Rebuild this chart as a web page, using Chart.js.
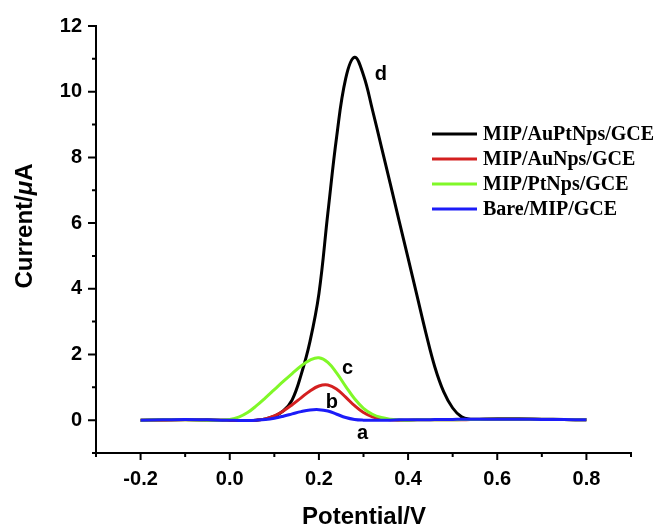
<!DOCTYPE html>
<html>
<head>
<meta charset="utf-8">
<script src="https://cdn.jsdelivr.net/npm/chart.js"></script>
<style>
  html, body { margin: 0; padding: 0; background: #fff; }
  #wrap { width: 657px; height: 526px; }
</style>
</head>
<body>
<div id="wrap"><canvas id="dpv"></canvas></div>
<script>
// potential (V), shared by all four curves
const potential = [-0.2, -0.15, -0.1, -0.05, -0.02,
  0.00, 0.02, 0.04, 0.06, 0.08, 0.10, 0.12, 0.14, 0.16, 0.18,
  0.20, 0.22, 0.24, 0.26, 0.28, 0.30, 0.32, 0.34, 0.36, 0.38,
  0.40, 0.42, 0.44, 0.46, 0.48, 0.50, 0.52, 0.54, 0.56,
  0.60, 0.65, 0.70, 0.75, 0.80];

// current (uA)
const auPtNps = [0.0, 0.01, 0.02, 0.01, 0.0,
  0.0, -0.01, -0.01, 0.0, 0.04, 0.12, 0.28, 0.62, 1.38, 2.4,
  3.85, 6.3, 8.65, 10.4, 11.05, 10.5, 9.45, 8.33, 7.2, 6.06,
  4.93, 3.79, 2.65, 1.62, 0.86, 0.37, 0.1, 0.03, 0.03,
  0.04, 0.04, 0.03, 0.02, 0.01];
const auNps = [0.0, 0.0, 0.01, 0.0, 0.0,
  0.0, -0.01, -0.01, 0.0, 0.04, 0.13, 0.28, 0.47, 0.68, 0.89,
  1.04, 1.07, 0.94, 0.7, 0.44, 0.23, 0.1, 0.04, 0.01, 0.0,
  0.0, 0.01, 0.01, 0.01, 0.01, 0.01, 0.01, 0.02, 0.02,
  0.03, 0.03, 0.02, 0.02, 0.01];
const ptNps = [0.0, 0.01, 0.01, 0.0, 0.0,
  0.02, 0.09, 0.23, 0.44, 0.68, 0.93, 1.18, 1.42, 1.65, 1.83,
  1.9, 1.76, 1.43, 1.03, 0.65, 0.36, 0.18, 0.08, 0.03, 0.01,
  0.0, 0.01, 0.01, 0.01, 0.01, 0.01, 0.02, 0.02, 0.02,
  0.03, 0.03, 0.02, 0.02, 0.01];
const bare = [0.0, 0.01, 0.02, 0.01, 0.0,
  0.0, -0.01, -0.01, 0.0, 0.02, 0.06, 0.12, 0.19, 0.26, 0.31,
  0.32, 0.28, 0.18, 0.08, 0.02, 0.0, 0.0, 0.0, 0.0, 0.01,
  0.01, 0.01, 0.01, 0.02, 0.02, 0.02, 0.03, 0.03, 0.03,
  0.03, 0.03, 0.02, 0.02, 0.01];

const seriesNames = ['MIP/AuPtNps/GCE', 'MIP/AuNps/GCE', 'MIP/PtNps/GCE', 'Bare/MIP/GCE'];

const xMajor = [-0.2, 0.0, 0.2, 0.4, 0.6, 0.8];
const xMinor = [-0.3, -0.1, 0.1, 0.3, 0.5, 0.7, 0.9];
const yMajor = [0, 2, 4, 6, 8, 10, 12];
const yMinor = [-1, 1, 3, 5, 7, 9, 11];

// curve letters, placed in data units
const noteText = ['a', 'b', 'c', 'd'];
const notePotential = [0.298, 0.229, 0.264, 0.339];
const noteCurrent = [-0.40, 0.55, 1.58, 10.53];

function pts(ys) {
  return potential.map((x, i) => ({ x: x, y: ys[i] }));
}

const SANS = '"Liberation Sans", Arial, sans-serif';
const SERIF = '"Liberation Serif", "Times New Roman", serif';

const extras = {
  id: 'extras',
  afterDraw(chart) {
    const ctx = chart.ctx;
    const xs = chart.scales.x, ys = chart.scales.y;
    const area = chart.chartArea;
    ctx.save();
    ctx.strokeStyle = '#000';
    ctx.lineWidth = 2;
    ctx.beginPath();
    yMajor.forEach(v => { const p = ys.getPixelForValue(v); ctx.moveTo(area.left, p); ctx.lineTo(area.left - 8, p); });
    yMinor.forEach(v => { const p = ys.getPixelForValue(v); ctx.moveTo(area.left, p); ctx.lineTo(area.left - 4, p); });
    xMajor.forEach(v => { const p = xs.getPixelForValue(v); ctx.moveTo(p, area.bottom); ctx.lineTo(p, area.bottom + 7); });
    xMinor.forEach(v => { const p = xs.getPixelForValue(v); ctx.moveTo(p, area.bottom); ctx.lineTo(p, area.bottom + 4); });
    ctx.stroke();

    // curve letters
    ctx.fillStyle = '#000';
    ctx.font = 'bold 20px ' + SANS;
    ctx.textAlign = 'center';
    ctx.textBaseline = 'middle';
    noteText.forEach((t, i) => {
      ctx.fillText(t, xs.getPixelForValue(notePotential[i]), ys.getPixelForValue(noteCurrent[i]));
    });

    // legend
    ctx.font = 'bold 20px ' + SERIF;
    ctx.textAlign = 'left';
    chart.data.datasets.forEach((ds, i) => {
      const y = 134 + i * 25;
      ctx.strokeStyle = ds.borderColor;
      ctx.lineWidth = 3;
      ctx.beginPath();
      ctx.moveTo(432, y);
      ctx.lineTo(477, y);
      ctx.stroke();
      ctx.fillStyle = '#000';
      ctx.fillText(ds.label, 483, y + 1);
    });

    // axis titles
    ctx.textBaseline = 'alphabetic';
    ctx.font = 'bold 24px ' + SANS;
    ctx.textAlign = 'center';
    ctx.fillText('Potential/V', 364, 524);

    const parts = [['Current/', 'bold 24px ' + SANS], ['\u03bc', 'italic bold 24px ' + SANS], ['A', 'bold 24px ' + SANS]];
    let total = 0;
    parts.forEach(p => { ctx.font = p[1]; total += ctx.measureText(p[0]).width; });
    ctx.translate(32, 226);
    ctx.rotate(-Math.PI / 2);
    ctx.textAlign = 'left';
    let x = -total / 2;
    parts.forEach(p => { ctx.font = p[1]; ctx.fillText(p[0], x, 0); x += ctx.measureText(p[0]).width; });
    ctx.restore();
  }
};

new Chart(document.getElementById('dpv'), {
  type: 'scatter',
  data: {
    datasets: [
      { label: seriesNames[0], data: pts(auPtNps), borderColor: '#000000', order: 3 },
      { label: seriesNames[1], data: pts(auNps), borderColor: '#d42020', order: 2 },
      { label: seriesNames[2], data: pts(ptNps), borderColor: '#80f828', order: 1 },
      { label: seriesNames[3], data: pts(bare), borderColor: '#1c1cf8', order: 0 }
    ]
  },
  options: {
    responsive: true,
    maintainAspectRatio: false,
    animation: false,
    datasets: {
      scatter: {
        showLine: true,
        pointRadius: 0,
        borderWidth: 3,
        tension: 0.4,
        fill: false
      }
    },
    layout: { padding: { top: 24, right: 26, left: 0, bottom: 0 } },
    plugins: { legend: { display: false }, tooltip: { enabled: false } },
    scales: {
      x: {
        type: 'linear',
        min: -0.3,
        max: 0.9,
        afterBuildTicks: s => { s.ticks = xMajor.map(v => ({ value: v })); },
        afterFit: s => { s.height = 73; },
        grid: { display: false, drawTicks: false },
        border: { display: true, color: '#000', width: 2 },
        ticks: {
          autoSkip: false, maxRotation: 0, padding: 14, color: '#000',
          font: { family: SANS, size: 20, weight: 'bold' },
          callback: v => v.toFixed(1)
        }
      },
      y: {
        type: 'linear',
        min: -1,
        max: 12,
        afterBuildTicks: s => { s.ticks = yMajor.map(v => ({ value: v })); },
        afterFit: s => { s.width = 96; },
        grid: { display: false, drawTicks: false },
        border: { display: true, color: '#000', width: 2 },
        ticks: {
          autoSkip: false, padding: 14, color: '#000',
          font: { family: SANS, size: 20, weight: 'bold' },
          callback: v => String(v)
        }
      }
    }
  },
  plugins: [extras]
});
</script>
</body>
</html>
